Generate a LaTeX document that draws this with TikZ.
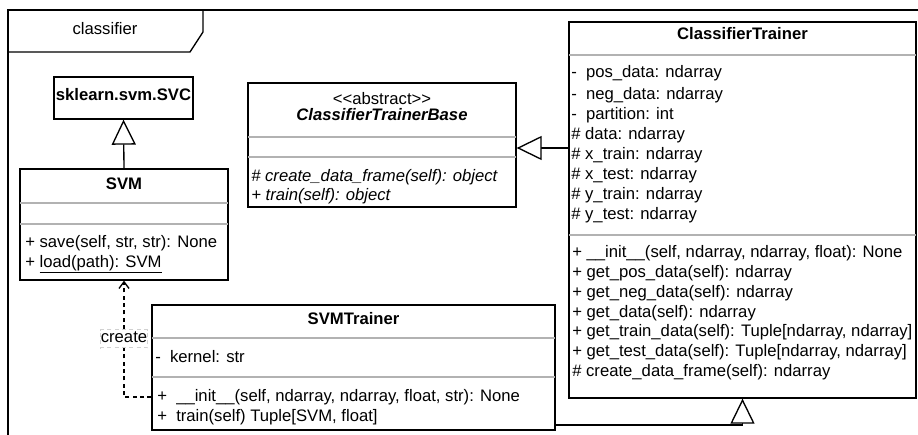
\documentclass[tikz,border=0pt]{standalone}
\usepackage{fontspec}
\setmainfont{Liberation Sans}
\usetikzlibrary{arrows.meta,fit}
\begin{document}
\begin{tikzpicture}[x=0.75pt,y=-0.75pt,
  box/.style={draw=black, fill=white, inner sep=0pt, line width=1pt},
  sepline/.style={draw=black!30, line width=1pt},
  txt/.style={anchor=west, inner sep=0pt, font=\fontsize{12.5}{14}\selectfont, text height=9pt, text depth=3pt},
  ttl/.style={inner sep=0pt, font=\fontsize{12.5}{14}\selectfont\bfseries, text height=9pt, text depth=3pt},
  inh/.style={draw=black, line width=1pt, -{Triangle[fill=white, length=18.75pt, width=18pt]}},
  dep/.style={draw=black, line width=1pt, dash pattern=on 3pt off 2.5pt, -{Straight Barb[length=5pt, width=7.5pt]}},
  tag/.style={fill=white, draw=black!18, line width=0.75pt, inner xsep=0.6pt, inner ysep=0.8pt, font=\fontsize{12.5}{14}\selectfont, text height=9pt, text depth=3pt}
]
\useasboundingbox (0,0) rectangle (918,435);
% frame
\draw[line width=1pt] (918,10) -- (8,10) -- (8,435);
\draw[line width=1pt] (8,52) -- (190,52) -- (203,32) -- (203,10);
\node[txt, anchor=center] (pkg) at (105,31) {classifier};

% sklearn.svm.SVC
\node[box, fit={(54,77) (193,119)}] (svc) {};
\node[ttl] (svct) at (123.5,97) {sklearn.svm.SVC};

% SVM
\node[box, fit={(20,169) (228,280)}] (svm) {};
\node[ttl] (svmtt) at (124,185) {SVM};
\draw[sepline] (20,203) -- (228,203);
\draw[sepline] (20,224) -- (228,224);
\node[txt] (svmm1) at (25,243) {+ save(self, str, str): None};
\node[txt] (svmm2) at (25,263) {+ \underline{load(path): SVM}};

% ClassifierTrainerBase
\node[box, fit={(248,83) (516,207)}] (base) {};
\node[txt, anchor=center] (bases) at (382,100) {<\kern0pt<abstract>\kern0pt>};
\node[ttl, font=\fontsize{12.5}{14}\selectfont\bfseries\itshape] (baset) at (382,117) {ClassifierTrainerBase};
\draw[sepline] (248,137) -- (516,137);
\draw[sepline] (248,157) -- (516,157);
\node[txt, font=\fontsize{12.5}{14}\selectfont\itshape] (basem1) at (251,177) {\# create\_data\_frame(self): object};
\node[txt, font=\fontsize{12.5}{14}\selectfont\itshape] (basem2) at (251,196) {+ train(self): object};

% ClassifierTrainer
\node[box, fit={(569,22) (916,398)}] (ct) {};
\node[ttl] (ctt) at (742.5,36) {ClassifierTrainer};
\draw[sepline] (569,55) -- (916,55);
\node[txt] (cta1) at (571,74) {-\ \ pos\_data: ndarray};
\node[txt] (cta2) at (571,95) {-\ \ neg\_data: ndarray};
\node[txt] (cta3) at (571,115) {-\ \ partition: int};
\node[txt] (cta4) at (571,135) {\# data: ndarray};
\node[txt] (cta5) at (571,155) {\# x\_train: ndarray};
\node[txt] (cta6) at (571,175) {\# x\_test: ndarray};
\node[txt] (cta7) at (571,195) {\# y\_train: ndarray};
\node[txt] (cta8) at (571,215) {\# y\_test: ndarray};
\draw[sepline] (569,235) -- (916,235);
\node[txt] (ctm1) at (572,253) {+ \_\_init\_\_(self, ndarray, ndarray, float): None};
\node[txt] (ctm2) at (572,273) {+ get\_pos\_data(self): ndarray};
\node[txt] (ctm3) at (572,293) {+ get\_neg\_data(self): ndarray};
\node[txt] (ctm4) at (572,313) {+ get\_data(self): ndarray};
\node[txt] (ctm5) at (572,332) {+ get\_train\_data(self): Tuple[ndarray, ndarray]};
\node[txt] (ctm6) at (572,352) {+ get\_test\_data(self): Tuple[ndarray, ndarray]};
\node[txt] (ctm7) at (572,372) {\# create\_data\_frame(self): ndarray};

% SVMTrainer
\node[box, fit={(152,305) (555,430)}] (svmt) {};
\node[ttl] (svmtt2) at (353.5,320) {SVMTrainer};
\draw[sepline] (152,338) -- (555,338);
\node[txt] (svmta1) at (155,358) {-\ \ kernel: str};
\draw[sepline] (152,377) -- (555,377);
\node[txt] (svmtm1) at (157,397) {+\ \ \_\_init\_\_(self, ndarray, ndarray, float, str): None};
\node[txt] (svmtm2) at (157,417) {+\ \ train(self) Tuple[SVM, float]};

% connectors
\draw[inh] (svm.north) -- (svc.south);
\draw[inh] (ct.west |- 0,148) -- (base.east |- 0,148);
\draw[inh] (svmt.east |- 0,425) -| (ct.south);
\draw[dep] (svmt.west |- 0,397) -| node[tag, pos=0.75] (lbl) {create} (svm.south);
\end{tikzpicture}
\end{document}
